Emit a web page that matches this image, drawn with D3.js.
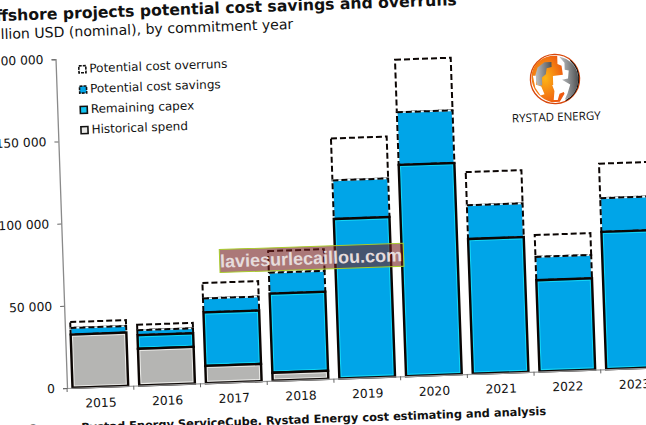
<!DOCTYPE html>
<html><head><meta charset="utf-8">
<script src="https://cdn.jsdelivr.net/npm/d3@7"></script>
<style>html,body{margin:0;padding:0;background:#fff;overflow:hidden}svg{display:block}text{font-family:"DejaVu Sans",sans-serif;fill:#111}</style>
</head><body><svg id="c" width="646" height="425"></svg>
<script>
const years=["2015","2016","2017","2018","2019","2020","2021","2022","2023"];
const historical=[32400,22300,10500,4900,0,0,0,0,0];
const remainingTop=[32400,30600,43000,53000,97000,128500,82000,55500,83500];
const savingsTop=[36400,33600,51500,65700,120500,160500,102500,69700,104000];
const overrunsTop=[40000,36900,60900,78900,146000,192500,122700,83000,125000];
const yTicks=[0,50000,100000,150000,200000];
const legendLabels=["Potential cost overruns","Potential cost savings","Remaining capex","Historical spend"];
const blue="#00a5e8",cyan="#13d6f5",gray="#b5b5b3";

const svg=d3.select("#c");
const g=svg.append("g").attr("transform","translate(67,388) rotate(-2)");
const H=329;
const x=d3.scaleBand().domain(years).range([0,600.75]).paddingInner(0.165).paddingOuter(0.0825);
const y=d3.scaleLinear().domain([0,200000]).range([0,-H]);

function box(sel,i,lo,hi,fill,inner,dashed){
  const xx=x(years[i]),w=x.bandwidth(),t=y(hi),h=y(lo)-y(hi);
  if(h<=0)return;
  sel.append("rect").attr("x",xx).attr("y",t).attr("width",w).attr("height",h).attr("fill",fill);
  if(inner&&h>3) sel.append("rect").attr("x",xx+1.8).attr("y",t+1.8).attr("width",w-3.6).attr("height",h-3.6).attr("fill","none").attr("stroke",inner).attr("stroke-width",1);
  if(dashed) sel.append("rect").attr("x",xx).attr("y",t).attr("width",w).attr("height",h).attr("fill","none").attr("stroke",fill==="#fff"?"#fff":"#e9f6fb").attr("stroke-width",1.6);
  const r=sel.append("rect").attr("x",xx).attr("y",t).attr("width",w).attr("height",h).attr("fill","none").attr("stroke","#0b0503").attr("stroke-width",dashed?2:2.4);
  if(dashed) r.attr("stroke-dasharray","6 3");
}
const bars=g.append("g");
years.forEach((yr,i)=>{
  box(bars,i,savingsTop[i],overrunsTop[i],"#fff",null,true);
  box(bars,i,remainingTop[i],savingsTop[i],blue,null,true);
  box(bars,i,historical[i],remainingTop[i],blue,cyan,false);
  box(bars,i,0,historical[i],gray,"#ebebe8",false);
});

const ay=g.append("g").call(d3.axisLeft(y).tickValues(yTicks).tickSize(4).tickPadding(8).tickFormat(d=>d3.format(",")(d).replace(/,/g," ")));
ay.select(".domain").attr("stroke","#8a8a8a").attr("stroke-width",1.3);
ay.selectAll(".tick line").attr("stroke","#666");
ay.selectAll("text").attr("font-size",12.3).attr("fill","#111").attr("font-family","DejaVu Sans");

const ax=g.append("g").call(d3.axisBottom(x).tickSize(0).tickPadding(11.5));
ax.select(".domain").attr("stroke","#9a9a9a").attr("stroke-width",1.2);
ax.selectAll("text").attr("font-size",12.3).attr("fill","#111").attr("font-family","DejaVu Sans");
const edges=[0].concat(years.map(d=>x(d)+x.bandwidth()+x.step()*0.0825));
g.append("g").selectAll("line").data(edges).join("line").attr("x1",d=>d).attr("x2",d=>d).attr("y1",0).attr("y2",4).attr("stroke","#666");

g.append("text").attr("x",403).attr("y",-369).attr("text-anchor","end").attr("font-size",15.65).attr("font-weight","bold").text("Offshore projects potential cost savings and overruns");
g.append("text").attr("x",238.8).attr("y",-351).attr("text-anchor","end").attr("font-size",14.1).attr("fill","#222").text("Million USD (nominal), by commitment year");
g.append("text").attr("x",478).attr("y",43.7).attr("text-anchor","end").attr("font-size",11.4).attr("font-weight","bold").text("Source: Rystad Energy ServiceCube, Rystad Energy cost estimating and analysis");

// legend
const leg=g.append("g").selectAll("g").data(legendLabels).join("g").attr("transform",(d,i)=>`translate(0,${-318.5+i*20.3})`);
leg.append("text").attr("x",33.5).attr("y",4).attr("font-size",12).text(d=>d);
leg.each(function(d,i){
  const s=d3.select(this);
  const fills=["#fff",blue,"#13c4f2","#e8e8e6"];
  s.append("rect").attr("x",23).attr("y",-3).attr("width",7).attr("height",7).attr("fill",fills[i]).attr("stroke","#111").attr("stroke-width",1.6).attr("stroke-dasharray",i<2?"3 1":null);
});

// logo
const defs=svg.append("defs");
const rg=defs.append("radialGradient").attr("id","og").attr("cx","0.42").attr("cy","0.48").attr("r","0.6");
rg.append("stop").attr("offset","0").attr("stop-color","#fdb515");
rg.append("stop").attr("offset","1").attr("stop-color","#ee5a10");
const gg=defs.append("linearGradient").attr("id","gr").attr("x1","0").attr("x2","1");
gg.append("stop").attr("offset","0").attr("stop-color","#c4c6c8");
gg.append("stop").attr("offset","1").attr("stop-color","#4f5254");
const lg=svg.append("g").attr("transform","translate(555,79) rotate(-2)");
lg.append("circle").attr("r",24.6).attr("fill","#fff").attr("stroke","#d8480c").attr("stroke-width",1.3);
lg.append("path").attr("fill","url(#og)").attr("d","M3,-23 C-8,-25 -21,-18 -23,-6 C-25,6 -18,19 -4,23 L4,23 L9,15 L6,7 L-2,6 L-2,-3 L8,-4 L7,-13 L3,-15 Z");
lg.append("path").attr("fill","url(#gr)").attr("d","M5,-22 L10,-16 L10,-9 L14,-8 L13,0 L7,1 L15,6 L12,15 L9,21 C19,18 24,8 23,-3 C22,-12 15,-20 5,-22 Z");
lg.append("path").attr("fill","url(#gr)").attr("d","M-17,-12 L-10,-17 L-3,-17 L-3,-12 L-8,-11 L-9,-5 L-13,-2 L-13,6 L-18,6 L-20,-3 Z");
lg.append("path").attr("fill","#fff").attr("d","M-3,6 L8,6 L9,13 L4,15 L2,21 L-2,21 L-1,12 Z");
lg.append("path").attr("fill","#fff").attr("d","M-22,-4 L-19,-4 L-19,5 L-14,7 L-11,15 L-15,16 L-20,8 Z");
lg.append("path").attr("fill","none").attr("stroke","#111").attr("stroke-width",1.1).attr("d","M16,-18 A24.6,24.6 0 0 1 10,22");
lg.append("text").attr("x",0).attr("y",42).attr("text-anchor","middle").attr("font-size",11.6).attr("style","font-family:'Open Sans',sans-serif").attr("fill","#111").text("RYSTAD ENERGY");

// watermark
const wm=g.append("g");
wm.append("rect").attr("x",157).attr("y",-133).attr("width",184).attr("height",23).attr("fill","rgba(115,30,30,0.6)").attr("stroke","#a9cc2c").attr("stroke-width",1);
wm.append("text").attr("x",248.5).attr("y",-115).attr("text-anchor","middle").attr("font-size",18).attr("font-weight","bold").attr("style","font-family:'Liberation Sans',sans-serif;fill:#e6dcdc").text("laviesurlecaillou.com");
</script></body></html>
